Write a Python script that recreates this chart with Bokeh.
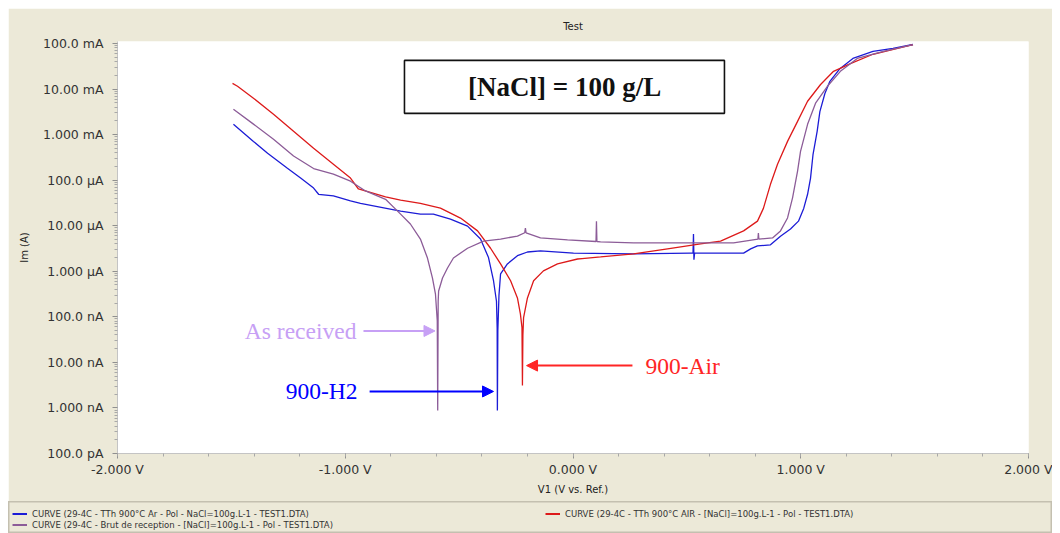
from bokeh.plotting import figure
from bokeh.layouts import column
from bokeh.models import (FixedTicker, Label, Arrow, NormalHead, BoxAnnotation,
                          Legend, LegendItem, Range1d)
from bokeh.embed import file_html
from bokeh.resources import INLINE

# ---------------- data (V vs Ref, current in A) ----------------
h2_v = [-1.491, -1.403, -1.341, -1.254, -1.196, -1.139, -1.117, -1.052, -0.977, -0.933,
        -0.757, -0.670, -0.613, -0.538, -0.463, -0.406, -0.371, -0.349, -0.336, -0.333,
        -0.332, -0.330, -0.325, -0.318, -0.288, -0.244, -0.200, -0.143, 0.002, 0.266,
        0.516, 0.527, 0.529, 0.531, 0.534, 0.560, 0.749, 0.780, 0.810, 0.867,
        0.911, 0.955, 0.990, 1.013, 1.030, 1.043, 1.054, 1.072, 1.084, 1.106,
        1.128, 1.172, 1.229, 1.317, 1.405, 1.493]
h2_i = [1.68e-3, 7.1e-4, 3.9e-4, 1.83e-4, 1.11e-4, 6.7e-5, 4.9e-5, 4.5e-5, 3.5e-5, 3.1e-5,
        2.1e-5, 1.8e-5, 1.8e-5, 1.4e-5, 9.8e-6, 5.1e-6, 2.0e-6, 6.2e-7, 2.2e-7, 5.8e-8,
        8.8e-10, 5.0e-8, 3.0e-7, 8.8e-7, 1.45e-6, 2.2e-6, 2.65e-6, 2.8e-6, 2.5e-6, 2.4e-6,
        2.5e-6, 2.5e-6, 6.6e-6, 1.8e-6, 2.5e-6, 2.5e-6, 2.5e-6, 3.1e-6, 3.6e-6, 3.8e-6,
        5.9e-6, 8.5e-6, 1.26e-5, 2.4e-5, 4.9e-5, 1.11e-4, 3.7e-4, 1.18e-3, 3.2e-3, 8.0e-3,
        1.48e-2, 2.8e-2, 4.7e-2, 6.7e-2, 7.8e-2, 9.5e-2]

air_v = [-1.495, -1.473, -1.403, -1.315, -1.227, -1.139, -1.052, -0.977, -0.942, -0.823,
         -0.757, -0.670, -0.582, -0.494, -0.419, -0.362, -0.318, -0.274, -0.244, -0.231,
         -0.224, -0.222, -0.220, -0.217, -0.200, -0.173, -0.130, -0.068, 0.020, 0.040,
         0.121, 0.266, 0.415, 0.560, 0.648, 0.749, 0.810, 0.836, 0.867, 0.898,
         0.942, 0.986, 1.030, 1.087, 1.144, 1.218, 1.317, 1.493]
air_i = [1.33e-2, 1.15e-2, 6.3e-3, 2.8e-3, 1.18e-3, 5.0e-4, 2.24e-4, 1.11e-4, 6.4e-5, 4.3e-5,
         3.65e-5, 3.1e-5, 2.44e-5, 1.47e-5, 7.7e-6, 3.2e-6, 1.45e-6, 6.2e-7, 2.6e-7, 1.16e-7,
         5.8e-8, 3.1e-9, 4.0e-8, 9.6e-8, 2.6e-7, 6.2e-7, 1.02e-6, 1.45e-6, 1.86e-6, 1.9e-6,
         2.06e-6, 2.4e-6, 3.1e-6, 4.0e-6, 4.6e-6, 7.7e-6, 1.26e-5, 2.4e-5, 8.1e-5, 2.24e-4,
         7.1e-4, 1.95e-3, 5.4e-3, 1.26e-2, 2.45e-2, 3.6e-2, 5.8e-2, 9.5e-2]

rec_v = [-1.491, -1.403, -1.315, -1.227, -1.139, -1.052, -0.977, -0.911, -0.823, -0.757,
         -0.714, -0.670, -0.639, -0.617, -0.604, -0.596, -0.594, -0.592, -0.590, -0.573,
         -0.551, -0.525, -0.463, -0.393, -0.318, -0.244, -0.212, -0.209, -0.206, -0.143,
         -0.024, 0.101, 0.103, 0.105, 0.121, 0.266, 0.503, 0.705, 0.812, 0.814,
         0.816, 0.876, 0.911, 0.942, 0.964, 0.986, 0.999, 1.030, 1.065, 1.117,
         1.174, 1.248, 1.363, 1.493]
rec_i = [3.6e-3, 1.7e-3, 7.9e-4, 3.4e-4, 1.8e-4, 1.35e-4, 9.5e-5, 5.8e-5, 3.8e-5, 1.8e-5,
         1.09e-5, 5.1e-6, 1.95e-6, 7.1e-7, 3.2e-7, 8.2e-8, 8.8e-10, 2.2e-7, 3.7e-7, 7.1e-7,
         1.18e-6, 1.96e-6, 3.2e-6, 4.6e-6, 5.1e-6, 5.9e-6, 7.0e-6, 8.9e-6, 7.0e-6, 5.4e-6,
         4.9e-6, 4.5e-6, 1.26e-5, 4.5e-6, 4.4e-6, 4.2e-6, 4.2e-6, 4.2e-6, 5.1e-6, 6.9e-6,
         5.1e-6, 5.4e-6, 7.7e-6, 1.48e-5, 4.1e-5, 1.58e-4, 4.3e-4, 1.68e-3, 4.9e-3, 1.15e-2,
         2.45e-2, 4.7e-2, 6.7e-2, 9.5e-2]

x_ticks = [-2, -1, 0, 1, 2]
x_tick_labels = ["-2.000 V", "-1.000 V", "0.000 V", "1.000 V", "2.000 V"]
y_ticks = [1e-10, 1e-9, 1e-8, 1e-7, 1e-6, 1e-5, 1e-4, 1e-3, 1e-2, 1e-1]
y_tick_labels = ["100.0 pA", "1.000 nA", "10.00 nA", "100.0 nA", "1.000 \u00b5A",
                 "10.00 \u00b5A", "100.0 \u00b5A", "1.000 mA", "10.00 mA", "100.0 mA"]

legend_labels = [
    "CURVE (29-4C - TTh 900\u00b0C Ar - Pol - NaCl=100g.L-1 - TEST1.DTA)",
    "CURVE (29-4C - TTh 900\u00b0C AIR - [NaCl]=100g.L-1 - Pol - TEST1.DTA)",
    "CURVE (29-4C - Brut de reception - [NaCl]=100g.L-1 - Pol - TEST1.DTA)",
]

BEIGE = "#ece9d8"
C_BLUE = "#1c1cd6"
C_RED = "#dd1a1a"
C_PURPLE = "#8c5c98"
FONT = "DejaVu Sans"

p = figure(width=1044, height=493, y_axis_type="log",
           x_range=Range1d(-2, 2), y_range=Range1d(1e-10, 0.1106),
           output_backend="svg", toolbar_location=None,
           min_border_left=109, min_border_right=24, min_border_top=32, min_border_bottom=48,
           title="Test")
p.border_fill_color = BEIGE
p.background_fill_color = "white"
p.outline_line_color = None
p.grid.visible = False

p.title.align = "center"
p.title.text_font = FONT
p.title.text_font_size = "10px"
p.title.text_font_style = "normal"
p.title.text_color = "#222222"
p.title.standoff = 20

# axes
p.xaxis.ticker = FixedTicker(ticks=x_ticks,
                             minor_ticks=[round(-2 + 0.2 * k, 1) for k in range(21)])
p.xaxis.major_label_overrides = {t: l for t, l in zip(x_ticks, x_tick_labels)}
p.yaxis.ticker = FixedTicker(ticks=y_ticks,
                             minor_ticks=[m * t for t in y_ticks[:-1] for m in range(2, 10)])
p.yaxis.major_label_overrides = {t: l for t, l in zip(y_ticks, y_tick_labels)}
for ax in (p.xaxis[0], p.yaxis[0]):
    ax.axis_line_color = "#c4c4c4"
    ax.major_tick_line_color = "#909090"
    ax.minor_tick_line_color = "#a8a8a8"
    ax.major_tick_in = 0
    ax.minor_tick_in = 0
    ax.major_tick_out = 5
    ax.minor_tick_out = 3
    ax.major_label_text_font = FONT
    ax.major_label_text_font_size = "12.5px"
    ax.major_label_text_color = "#333333"
    ax.axis_label_text_font = FONT
    ax.axis_label_text_font_size = "10px"
    ax.axis_label_text_font_style = "normal"
    ax.axis_label_text_color = "#222222"
p.xaxis.axis_label = "V1 (V vs. Ref.)"
p.yaxis.axis_label = "Im (A)"
p.xaxis.major_label_standoff = 3
p.xaxis.axis_label_standoff = 4
p.yaxis.major_label_standoff = 9
p.yaxis.axis_label_standoff = 10

# curves
r_h2 = p.line(h2_v, h2_i, line_color=C_BLUE, line_width=1.3)
r_air = p.line(air_v, air_i, line_color=C_RED, line_width=1.3)
r_rec = p.line(rec_v, rec_i, line_color=C_PURPLE, line_width=1.3)

# concentration box
p.add_layout(BoxAnnotation(left=-0.740, right=0.665, top=0.0425, bottom=0.00293,
                           fill_color="white", fill_alpha=1.0,
                           line_color="#111111", line_alpha=1.0, line_width=1.6))
p.add_layout(Label(x=-0.037, y=0.0112, text="[NaCl] = 100 g/L",
                   text_align="center", text_baseline="middle",
                   text_font="Liberation Serif", text_font_size="27px",
                   text_font_style="bold", text_color="#111111"))

# curve annotations
ann = [
    ("As received", "#c7a0f5", -0.951, 4.9e-8, "right", -0.920, -0.606, 4.9e-8),
    ("900-H2", "#0000ff", -0.946, 2.3e-9, "right", -0.893, -0.349, 2.3e-9),
    ("900-Air", "#ff2525", 0.318, 8.5e-9, "left", 0.261, -0.204, 8.5e-9),
]
for txt, col, tx, ty, align, xs, xe, ay in ann:
    p.add_layout(Label(x=tx, y=ty, text=txt, text_align=align, text_baseline="middle",
                       text_font="Liberation Serif", text_font_size="23.5px",
                       text_color=col))
    p.add_layout(Arrow(x_start=xs, y_start=ay, x_end=xe, y_end=ay,
                       line_color=col, line_width=2,
                       end=NormalHead(size=11, fill_color=col, line_color=col)))

# ---------------- legend strip ----------------
# the same series are drawn here, but outside this strip's (empty) view,
# so that the legend below the chart shows their line swatches
lf = figure(width=1044, height=32, x_range=Range1d(10, 11), y_range=Range1d(10, 11),
            output_backend="svg", toolbar_location=None,
            x_axis_location=None, y_axis_location=None,
            min_border=0, min_border_left=0, min_border_right=0,
            min_border_top=0, min_border_bottom=0)
try:
    lf.frame_align = False
    p.frame_align = False
except Exception:
    pass
lf.border_fill_color = BEIGE
lf.background_fill_color = BEIGE
lf.outline_line_color = "#c4c0b0"
lf.outline_line_width = 2
lf.grid.visible = False
g_h2 = lf.line(h2_v, h2_i, line_color=C_BLUE, line_width=2)
g_air = lf.line(air_v, air_i, line_color=C_RED, line_width=2)
g_rec = lf.line(rec_v, rec_i, line_color=C_PURPLE, line_width=2)

legend = Legend(items=[LegendItem(label=legend_labels[0], renderers=[g_h2]),
                       LegendItem(label=legend_labels[1], renderers=[g_air]),
                       LegendItem(label=legend_labels[2], renderers=[g_rec])],
                location=(4, 3), orientation="horizontal", ncols=2,
                background_fill_alpha=0.0, border_line_color=None,
                padding=5, margin=0, spacing=0,
                glyph_width=15, glyph_height=11, label_standoff=5, label_width=513,
                label_text_font=FONT, label_text_font_size="8.5px",
                label_text_color="#333333", label_height=11)
lf.add_layout(legend)

layout = column(p, lf, spacing=0)
layout.styles = {"margin-left": "8px", "margin-top": "8px"}

open("out.html", "w").write(file_html(layout, INLINE))
